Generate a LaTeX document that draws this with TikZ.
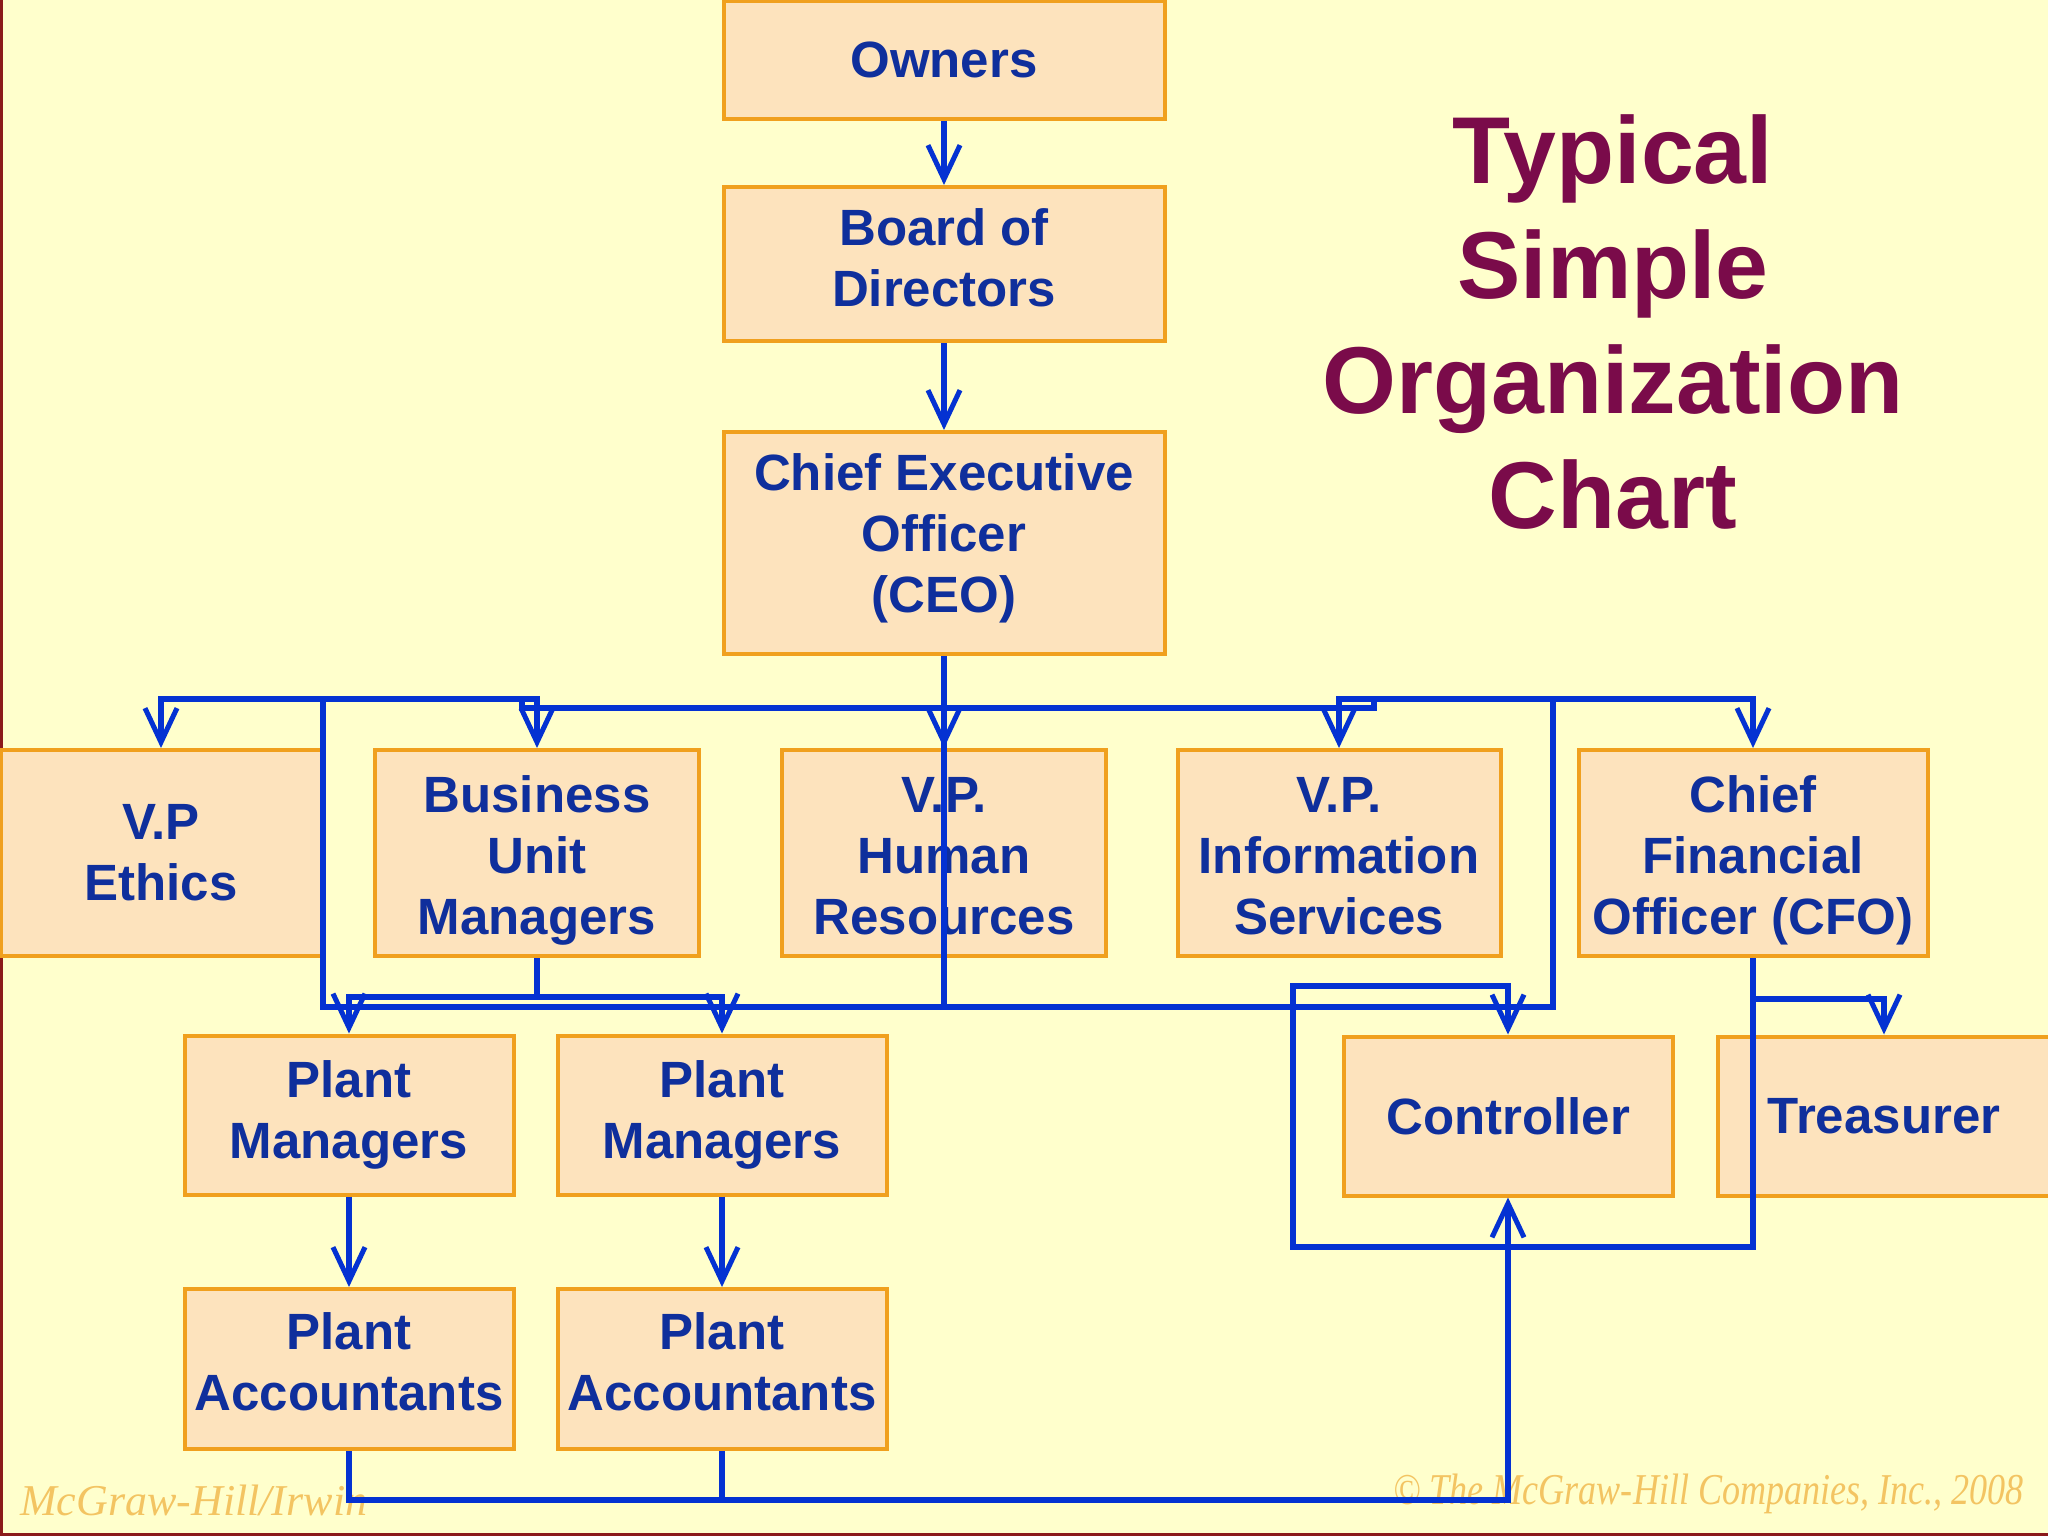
\documentclass[tikz,border=0pt]{standalone}
\usepackage{fontspec}
\setmainfont{Liberation Sans}
\newfontfamily\footfont{Liberation Serif}
\usetikzlibrary{arrows.meta}
\definecolor{paper}{HTML}{FFFFCC}
\definecolor{boxfill}{HTML}{FDE3BD}
\definecolor{boxline}{HTML}{F0A01E}
\definecolor{txtblue}{HTML}{0F2F9C}
\definecolor{wire}{HTML}{0432D2}
\definecolor{titlered}{HTML}{7A0B4A}
\definecolor{footgold}{HTML}{F3C462}
\definecolor{frame}{HTML}{8B1A1A}
\tikzset{
  unit/.style={draw=boxline, fill=boxfill, line width=4pt, text=txtblue,
    font=\fontsize{51}{61}\selectfont\bfseries, align=center, inner sep=0pt,
    minimum width=329pt, minimum height=159pt},
  toprow/.style={unit, minimum height=206pt},
  threeline/.style={text height=176pt, text depth=14pt},
  twoline/.style={text height=98pt, text depth=#1},
  link/.style={draw=wire, line width=5.5pt},
  tip/.style={link, -{Straight Barb[length=34pt, width=32pt, line width=5pt]}},
  foot/.style={text=footgold, inner sep=0pt, font=\footfont\itshape\fontsize{44}{50}\selectfont},
}
\begin{document}
\begin{tikzpicture}[x=1pt, y=-1pt]
\fill[paper] (0,0) rectangle (2048,1536);
\useasboundingbox (0,0) rectangle (2048,1536);
\draw[frame, line width=3pt] (1.5,0) -- (1.5,1534.5) -- (2048,1534.5);

\node[foot, anchor=base west] (brand) at (20,1515) {McGraw-Hill/Irwin};
\node[foot, anchor=base east, xscale=0.82] (copy) at (2024,1504) {© The McGraw-Hill Companies, Inc., 2008};

\node[text=titlered, font=\fontsize{95}{115}\selectfont\bfseries, align=center] (title) at (1613,322) {Typical\\Simple\\Organization\\Chart};

\node[unit, minimum width=441pt, minimum height=118pt] (owners) at (944,60) {Owners};
\node[unit, twoline=13pt, minimum width=441pt, minimum height=154pt] (board) at (944,264) {Board of\\Directors};
\node[unit, text height=159pt, text depth=21pt, minimum width=441pt, minimum height=222pt] (ceo) at (944,543) {Chief Executive\\Officer\\(CEO)};

\node[toprow, minimum width=321pt] (ethics) at (161,853) {V.P\\Ethics};
\node[toprow, threeline, minimum width=324pt] (bum) at (537,853) {Business\\Unit\\Managers};
\node[toprow, threeline, minimum width=324pt] (hr) at (944,853) {V.P.\\Human\\Resources};
\node[toprow, threeline, minimum width=323pt] (infosys) at (1339,853) {V.P.\\Information\\Services};
\node[toprow, threeline, minimum width=349pt] (cfo) at (1753,853) {Chief\\Financial\\Officer (CFO)};

\node[unit] (pm1) at (349,1115) {Plant\\Managers};
\node[unit] (pm2) at (722,1115) {Plant\\Managers};
\node[unit] (ctrl) at (1508,1116) {Controller};
\node[unit, minimum width=333pt] (treas) at (1884,1116) {Treasurer};

\node[unit, twoline=16pt, minimum height=160pt] (pa1) at (349,1369) {Plant\\Accountants};
\node[unit, twoline=16pt, minimum height=160pt] (pa2) at (722,1369) {Plant\\Accountants};

\coordinate (topbus) at (0,699);
\coordinate (midbus) at (0,708);
\coordinate (lowbus) at (0,1007);
\coordinate (base) at (0,1500);
\coordinate (ltap) at (323,699);
\coordinate (rtap) at (1553,699);
\coordinate (mbl) at (522,699);
\coordinate (mbr) at (1374,699);
\coordinate (loopbl) at (1293,1247);
\coordinate (loopt) at (1293,986);

\draw[tip] (owners) -- (board);
\draw[tip] (board) -- (ceo);
\draw[tip] (ceo) -- (hr);
\draw[link] (ceo.south) -- (ceo.south |- lowbus);

\draw[tip] (ltap) -| (ethics.north);
\draw[tip] (ltap) -| (bum.north);
\draw[tip] (rtap) -| (infosys.north);
\draw[tip] (rtap) -| (cfo.north);
\draw[link] (mbl) |- (mbr |- midbus) -- (mbr);
\draw[link] (ltap) |- (rtap |- lowbus) -- (rtap);

\draw[link] (bum.south) -- ++(0,39) coordinate (pmtap);
\draw[tip] (pmtap) -| (pm1.north);
\draw[tip] (pmtap) -| (pm2.north);
\draw[tip] (pm1) -- (pa1);
\draw[tip] (pm2) -- (pa2);

\draw[tip] (cfo.south) -- ++(0,41) -| (treas.north);
\draw[tip] (cfo.south) |- (loopbl) -- (loopt) -| (ctrl.north);
\draw[tip] (pa1.south) |- (ctrl.south |- base) -- (ctrl.south);
\draw[link] (pa2.south) -- (pa2.south |- base);
\end{tikzpicture}
\end{document}
